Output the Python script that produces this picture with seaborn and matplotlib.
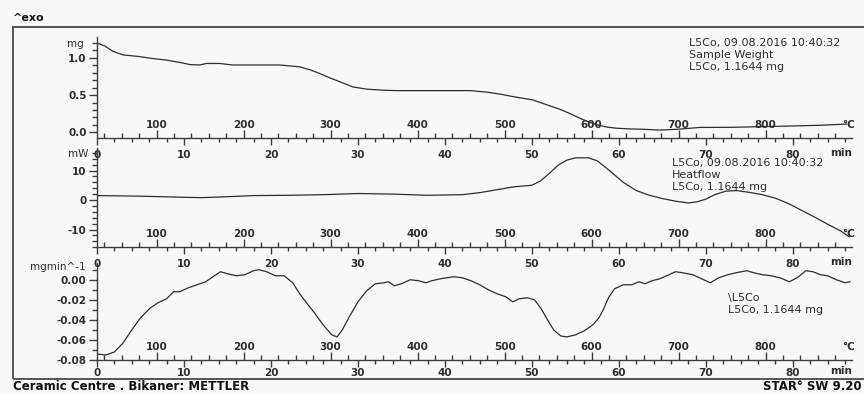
import numpy as np
import pandas as pd
import seaborn as sns
import matplotlib.pyplot as plt
from matplotlib.patches import Rectangle

# heating programme: temperature scale shown above each time axis
T_START = 31.4   # degC at t = 0
RATE = 10.0      # K/min

# TGA - sample weight (mg)
time_weight = [0, 0.9, 1.8, 3, 4.7, 6.5, 8, 9.5, 10.7, 11.8, 12.6, 14.1, 15.6, 18, 21,
               23.3, 24.5, 25.6, 26.8, 27.9, 29.4, 31, 33, 34.5, 38, 42.9, 44.8, 46.5,
               47.8, 50.1, 51.7, 53.2, 54.4, 55.5, 56.5, 57.5, 58.6, 59.8, 61.3, 62.8,
               64.7, 66.7, 69.3, 73.1, 76.2, 80, 83.1, 86.2]
weight_mg = [1.20, 1.16, 1.09, 1.04, 1.02, 0.99, 0.97, 0.94, 0.91, 0.905, 0.925, 0.925,
             0.905, 0.905, 0.905, 0.88, 0.84, 0.79, 0.73, 0.68, 0.61, 0.58, 0.565, 0.56,
             0.56, 0.56, 0.54, 0.51, 0.48, 0.435, 0.37, 0.31, 0.25, 0.19, 0.14, 0.10,
             0.07, 0.054, 0.045, 0.04, 0.03, 0.04, 0.065, 0.067, 0.075, 0.085, 0.094, 0.11]

# DSC - heat flow (mW)
time_hf = [0, 5, 9, 12, 14, 18, 22, 26, 30, 34, 38, 42, 44, 46, 48, 50, 51, 52, 53, 54,
           55, 56.5, 57.5, 58.5, 59.5, 60.5, 62, 63.5, 65, 66.5, 68, 69, 70, 71, 72.3,
           73.5, 75, 76.5, 78, 79.5, 81, 82.5, 84, 85.5, 86.5]
heatflow_mw = [1.5, 1.3, 1.0, 0.8, 1.0, 1.5, 1.6, 1.8, 2.2, 2.0, 1.6, 1.8, 2.5, 3.5, 4.5,
               5.0, 6.5, 9.0, 11.8, 13.5, 14.3, 14.3, 13.3, 11.0, 8.5, 6.0, 3.2, 1.6, 0.5,
               -0.4, -1.0, -0.6, 0.3, 1.8, 3.0, 3.2, 2.6, 1.8, 0.6, -1.2, -3.5, -5.8, -8.2,
               -10.5, -12.5]

# DTG - weight change rate (mg/min)
time_dtg = [0, 1, 2, 3, 4, 5, 6, 7, 8, 8.8, 9.5, 10.5, 11.5, 12.5, 13.5, 14.2, 15, 16, 17,
            18, 18.6, 19.5, 20.5, 21.5, 22.5, 23.3, 24, 25, 26, 27, 27.6, 28.2, 29, 30,
            31, 32, 33, 33.5, 34.2, 35, 36, 37, 37.8, 38.5, 39.5, 41, 42, 43, 44, 45, 46,
            47, 47.8, 48.5, 49.5, 50.3, 51, 51.8, 52.5, 53.3, 54, 55, 56, 57, 57.7, 58.2,
            58.8, 59.5, 60.5, 61.5, 62.3, 63, 63.8, 64.7, 65.5, 66.5, 67.3, 68.5, 69.5,
            70.5, 71.5, 72.5, 73.5, 74.7, 75.5, 76.5, 77.5, 78.5, 79.6, 80.5, 81.5, 82.3,
            83.2, 84, 85, 86, 86.6]
dtg = [-0.074, -0.075, -0.072, -0.063, -0.050, -0.038, -0.029, -0.023, -0.019, -0.012,
       -0.012, -0.008, -0.005, -0.002, 0.004, 0.008, 0.006, 0.004, 0.005, 0.009, 0.010,
       0.008, 0.004, 0.004, -0.003, -0.014, -0.022, -0.033, -0.045, -0.055, -0.057,
       -0.050, -0.037, -0.022, -0.011, -0.004, -0.003, -0.002, -0.006, -0.004, 0.000,
       -0.001, -0.003, -0.001, 0.001, 0.003, 0.002, -0.001, -0.005, -0.010, -0.014,
       -0.017, -0.022, -0.019, -0.018, -0.020, -0.028, -0.040, -0.050, -0.056, -0.057,
       -0.055, -0.051, -0.045, -0.038, -0.030, -0.018, -0.009, -0.005, -0.005, -0.002,
       -0.004, -0.001, 0.001, 0.004, 0.008, 0.007, 0.005, 0.001, -0.003, 0.002, 0.005,
       0.007, 0.009, 0.007, 0.005, 0.004, 0.002, -0.002, 0.002, 0.009, 0.008, 0.005,
       0.004, 0.000, -0.003, -0.002]

time_ticks = [0, 10, 20, 30, 40, 50, 60, 70, 80]
temp_labels = [100, 200, 300, 400, 500, 600, 700, 800]
T_MAX = 86.8  # min, end of the time axis

info_line = 'L5Co, 09.08.2016 10:40:32'
sample_line = 'L5Co, 1.1644 mg'


def t_to_T(t):
    return T_START + RATE * np.asarray(t, dtype=float)


def T_to_t(T):
    return (np.asarray(T, dtype=float) - T_START) / RATE


sns.set_style('ticks')
plt.rcParams['font.family'] = ['DejaVu Sans']
plt.rcParams['axes.unicode_minus'] = False

W, H = 864, 394
bg = '#f8f8f8'
ink = '#2e2e2e'
axis_c = '#3c3c3c'

fig = plt.figure(figsize=(W / 100, H / 100), dpi=100, facecolor=bg)

panels = [
    dict(top=37, bottom=138.3, ylim=(-0.081, 1.281), major=[0.0, 0.5, 1.0],
         minor=[0.1, 0.2, 0.3, 0.4, 0.6, 0.7, 0.8, 0.9, 1.1, 1.2], fmt='%.1f',
         unit='mg', unit_y=44, unit_x=84, pad=3.2, min_dy=-10.8,
         df=pd.DataFrame({'t': time_weight, 'v': weight_mg}),
         text=[info_line, 'Sample Weight', sample_line], text_xy=(689, 42.7)),
    dict(top=148, bottom=247.3, ylim=(-16.03, 17.63), major=[-10, 0, 10],
         minor=[-16, -14, -12, -8, -6, -4, -2, 2, 4, 6, 8, 12, 14, 16], fmt='%d',
         unit='mW', unit_y=154, unit_x=88, pad=3.2, min_dy=-10.8,
         df=pd.DataFrame({'t': time_hf, 'v': heatflow_mw}),
         text=[info_line, 'Heatflow', sample_line], text_xy=(672, 163.3)),
    dict(top=263, bottom=360, ylim=(-0.0800, 0.0167),
         major=[-0.08, -0.06, -0.04, -0.02, 0.00],
         minor=[-0.07, -0.05, -0.03, -0.01, 0.01], fmt='%.2f',
         unit='mgmin^-1', unit_y=267, unit_x=86, pad=0.8, min_dy=-8.2,
         df=pd.DataFrame({'t': time_dtg, 'v': dtg}),
         text=['\\L5Co', sample_line], text_xy=(728, 297.7)),
]

minor_time = [t for t in range(2, 87, 2) if t % 10]
temp_minor = [T for T in range(40, 900, 20) if T % 100]

for p in panels:
    ax = fig.add_axes([97 / W, 1 - p['bottom'] / H, 755 / W, (p['bottom'] - p['top']) / H])
    ax.set_facecolor('none')
    sns.lineplot(data=p['df'], x='t', y='v', ax=ax, color=ink, linewidth=0.9,
                 estimator=None, sort=False)
    ax.set_xlim(0, T_MAX)
    ax.set_ylim(*p['ylim'])
    ax.set_xlabel('')
    ax.set_ylabel('')
    for s in ['top', 'right']:
        ax.spines[s].set_visible(False)
    for s in ['left', 'bottom']:
        ax.spines[s].set_color(axis_c)
        ax.spines[s].set_linewidth(1.0)

    # time axis (below)
    ax.set_xticks(time_ticks)
    ax.set_xticklabels([str(t) for t in time_ticks], fontweight='bold', fontsize=7.5,
                       color=ink)
    ax.set_xticks(minor_time, minor=True)
    ax.tick_params(axis='x', which='major', direction='out', length=5, width=1,
                   pad=p['pad'], color=axis_c)
    ax.tick_params(axis='x', which='minor', direction='out', length=3, width=1,
                   color=axis_c)

    # value axis
    ax.set_yticks(p['major'])
    ax.set_yticklabels([p['fmt'] % v for v in p['major']], fontweight='bold',
                       fontsize=7.5, color=ink)
    ax.set_yticks(p['minor'], minor=True)
    ax.tick_params(axis='y', which='major', direction='out', length=6, width=1,
                   pad=1.5, color=axis_c)
    ax.tick_params(axis='y', which='minor', direction='out', length=3.5, width=1,
                   color=axis_c)

    # temperature axis (ticks pointing up, labels above the line)
    sec = ax.secondary_xaxis('bottom', functions=(t_to_T, T_to_t))
    sec.set_xticks(temp_labels)
    sec.set_xticks(temp_minor, minor=True)
    sec.tick_params(which='major', direction='in', length=6, width=1,
                    labelbottom=False, color=axis_c)
    sec.tick_params(which='minor', direction='in', length=3.5, width=1,
                    labelbottom=False, color=axis_c)
    sec.spines['bottom'].set_visible(False)
    for T in temp_labels:
        ax.annotate(str(T), xy=(float(T_to_t(T)), 0), xycoords=('data', 'axes fraction'),
                    xytext=(0, 9.6), textcoords='offset points', ha='center',
                    va='center', fontsize=7.5, fontweight='bold', color=ink)
    ax.annotate('°C', xy=(1, 0), xycoords='axes fraction', xytext=(2, 9.6),
                textcoords='offset points', ha='right', va='center', fontsize=7.5,
                fontweight='bold', color=ink)
    ax.annotate('min', xy=(1, 0), xycoords='axes fraction', xytext=(0, p['min_dy']),
                textcoords='offset points', ha='right', va='center', fontsize=7.5,
                fontweight='bold', color=ink)

    fig.text(p['unit_x'] / W, 1 - p['unit_y'] / H, p['unit'], ha='right', va='center',
             fontsize=7.5, color=ink)

    tx, ty = p['text_xy']
    for i, line in enumerate(p['text']):
        fig.text(tx / W, 1 - (ty + 12 * i) / H, line, ha='left', va='center',
                 fontsize=8, color=ink)

# outer frame and page texts
fig.add_artist(Rectangle((13 / W, 1 - 379 / H), (W + 10 - 13) / W, (379 - 27) / H,
                         transform=fig.transFigure, fill=False, ec='#555555', lw=1.4))
fig.text(13 / W, 1 - 18 / H, '^exo', ha='left', va='center', fontsize=8,
         fontweight='bold', color='#111111')
fig.text(13 / W, 1 - 387 / H, 'Ceramic Centre . Bikaner: METTLER', ha='left',
         va='center', fontsize=8.5, fontweight='bold', color='#111111')
fig.text(862 / W, 1 - 387 / H, 'STAR° SW 9.20', ha='right', va='center',
         fontsize=8.5, fontweight='bold', color='#111111')

fig.savefig('out.png', dpi=100, facecolor=bg)
